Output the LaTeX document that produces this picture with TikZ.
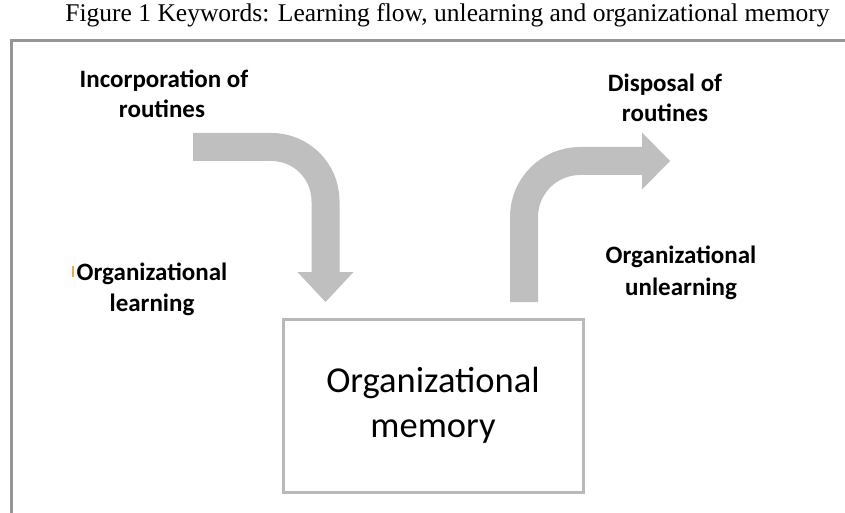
\documentclass[tikz,border=0pt]{standalone}
\usepackage{fontspec}
\setmainfont{Carlito}
\newfontfamily\titlefont{Liberation Serif}
\definecolor{arrowgray}{RGB}{191,191,191}
\definecolor{framegray}{RGB}{150,150,150}
\definecolor{boxgray}{RGB}{185,185,185}
\definecolor{cursororange}{RGB}{240,165,85}
\tikzset{
  lbl/.style={anchor=base, inner sep=0pt, font=\bfseries\fontsize{25}{30}\selectfont},
  memtext/.style={anchor=base, inner sep=0pt, font=\fontsize{36.5}{44}\selectfont},
  flow/.style={arrowgray, line width=28pt},
}
\begin{document}
\begin{tikzpicture}[x=1pt,y=-1pt]
\useasboundingbox (0,0) rectangle (845,513);
% title
\node[anchor=base, inner sep=0pt, font=\titlefont\fontsize{25.5}{30}\selectfont] (title) at (447.5,22)
  {Figure 1 Keywords: Learning flow, unlearning and organizational memory};
% frame
\draw[framegray, line width=3pt] (845,41) -- (11,41) -- (11,513);
% memory box
\node[draw=boxgray, line width=3pt, minimum width=300pt, minimum height=173pt, inner sep=0pt] (mem) at (433,405.5) {};
\node[memtext] (mem1) at (433,392) {Organizational};
\node[memtext] (mem2) at (433,437) {memory};
% incoming arrow
\coordinate (inA) at (193,147);
\coordinate (inB) at (325.5,147);
\coordinate (inC) at (325.5,272);
\draw[flow, rounded corners=54pt] (inA) -- (inB) -- (inC);
\fill[arrowgray] (inC) ++(-28,0) -- ++(56,0) -- ++(-28,30) -- cycle;
% outgoing arrow
\coordinate (outA) at (524,302);
\coordinate (outB) at (524,161);
\coordinate (outC) at (642,161);
\draw[flow, rounded corners=56pt] (outA) -- (outB) -- (outC);
\fill[arrowgray] (outC) ++(0,-28.5) -- ++(0,57) -- ++(28,-28.5) -- cycle;
% labels
\node[lbl] (inc1) at (164,88) {Incorporation of};
\node[lbl] (inc2) at (162,118) {routines};
\node[lbl] (dis1) at (665,92) {Disposal of};
\node[lbl] (dis2) at (665,122) {routines};
\node[lbl] (ol1) at (152,280) {Organizational};
\node[lbl] (ol2) at (152,311) {learning};
\node[lbl] (ou1) at (681,263) {Organizational};
\node[lbl] (ou2) at (681,295) {unlearning};
\draw[cursororange, line width=1.5pt] (73,266) -- (73,277);
\end{tikzpicture}
\end{document}
